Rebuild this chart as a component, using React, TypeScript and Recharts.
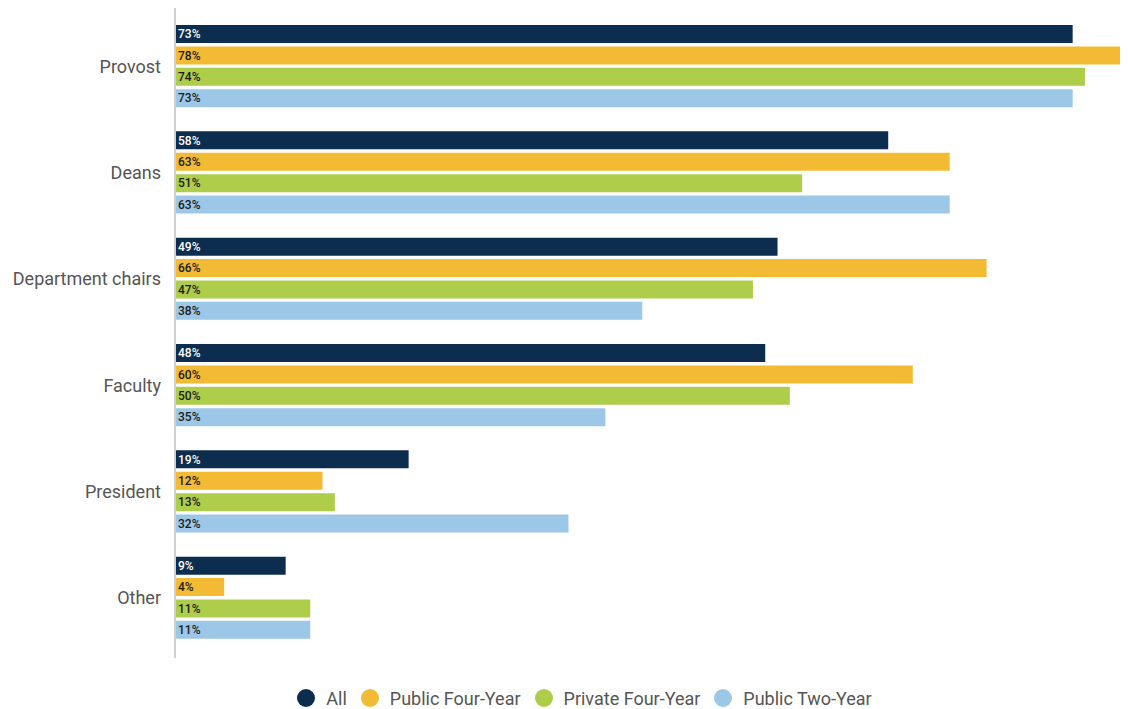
import React from "react";
import { BarChart, Bar, XAxis, YAxis, Legend, LabelList } from "recharts";

const categories = ["Provost", "Deans", "Department chairs", "Faculty", "President", "Other"];
const allValues = [73, 58, 49, 48, 19, 9];
const publicFourYear = [78, 63, 66, 60, 12, 4];
const privateFourYear = [74, 51, 47, 50, 13, 11];
const publicTwoYear = [73, 63, 38, 35, 32, 11];

const seriesNames = ["All", "Public Four-Year", "Private Four-Year", "Public Two-Year"];
const seriesKeys = ["all", "pub4", "priv4", "pub2"];
const seriesColors = ["#0d2d4f", "#f2bb33", "#aecd4a", "#9dc7e6"];
const labelColors = ["#ffffff", "#1a1a1a", "#1a1a1a", "#1a1a1a"];

const data = categories.map((c, i) => ({
  name: c,
  all: allValues[i],
  pub4: publicFourYear[i],
  priv4: privateFourYear[i],
  pub2: publicTwoYear[i],
}));

const FONT = "Roboto, 'Noto Sans', sans-serif";

const LegendContent = () => (
  <div
    style={{
      height: 50,
      display: "flex",
      alignItems: "flex-end",
      justifyContent: "center",
      paddingLeft: 33,
      boxSizing: "border-box",
      fontFamily: FONT,
    }}
  >
    <div style={{ display: "flex", alignItems: "center", height: 20 }}>
      {seriesNames.map((n, i) => (
        <div key={n} style={{ display: "flex", alignItems: "center", marginRight: i < 3 ? 14 : 0 }}>
          <span
            style={{
              width: 18,
              height: 18,
              borderRadius: "50%",
              background: seriesColors[i],
              display: "inline-block",
              marginRight: 11,
            }}
          />
          <span style={{ fontSize: 18, color: "#555555" }}>{n}</span>
        </div>
      ))}
    </div>
  </div>
);

export default function App() {
  return (
    <div style={{ width: 1120, height: 700 }}>
      <BarChart
        width={1120}
        height={700}
        data={data}
        layout="vertical"
        margin={{ top: 0, right: 0, bottom: 0, left: 0 }}
        barSize={18}
        barGap={3.4}
      >
        <XAxis type="number" domain={[0, 77.5]} allowDataOverflow hide />
        <YAxis
          type="category"
          dataKey="name"
          width={167}
          tickLine={false}
          tickSize={0}
          tickMargin={14}
          padding={{ top: 5, bottom: 7 }}
          axisLine={{ stroke: "#d0d0d0", strokeWidth: 2 }}
          tick={{ fill: "#555555", fontSize: 18, fontFamily: FONT }}
          interval={0}
        />
        <Legend verticalAlign="bottom" content={<LegendContent />} wrapperStyle={{ height: 50 }} />
        {seriesKeys.map((k, i) => (
          <Bar key={k} dataKey={k} name={seriesNames[i]} fill={seriesColors[i]} isAnimationActive={false}>
            <LabelList
              dataKey={k}
              position="insideLeft"
              offset={3}
              formatter={(v: number) => `${v}%`}
              style={{ fill: labelColors[i], fontSize: 12, fontWeight: 500, fontFamily: FONT }}
            />
          </Bar>
        ))}
      </BarChart>
    </div>
  );
}
